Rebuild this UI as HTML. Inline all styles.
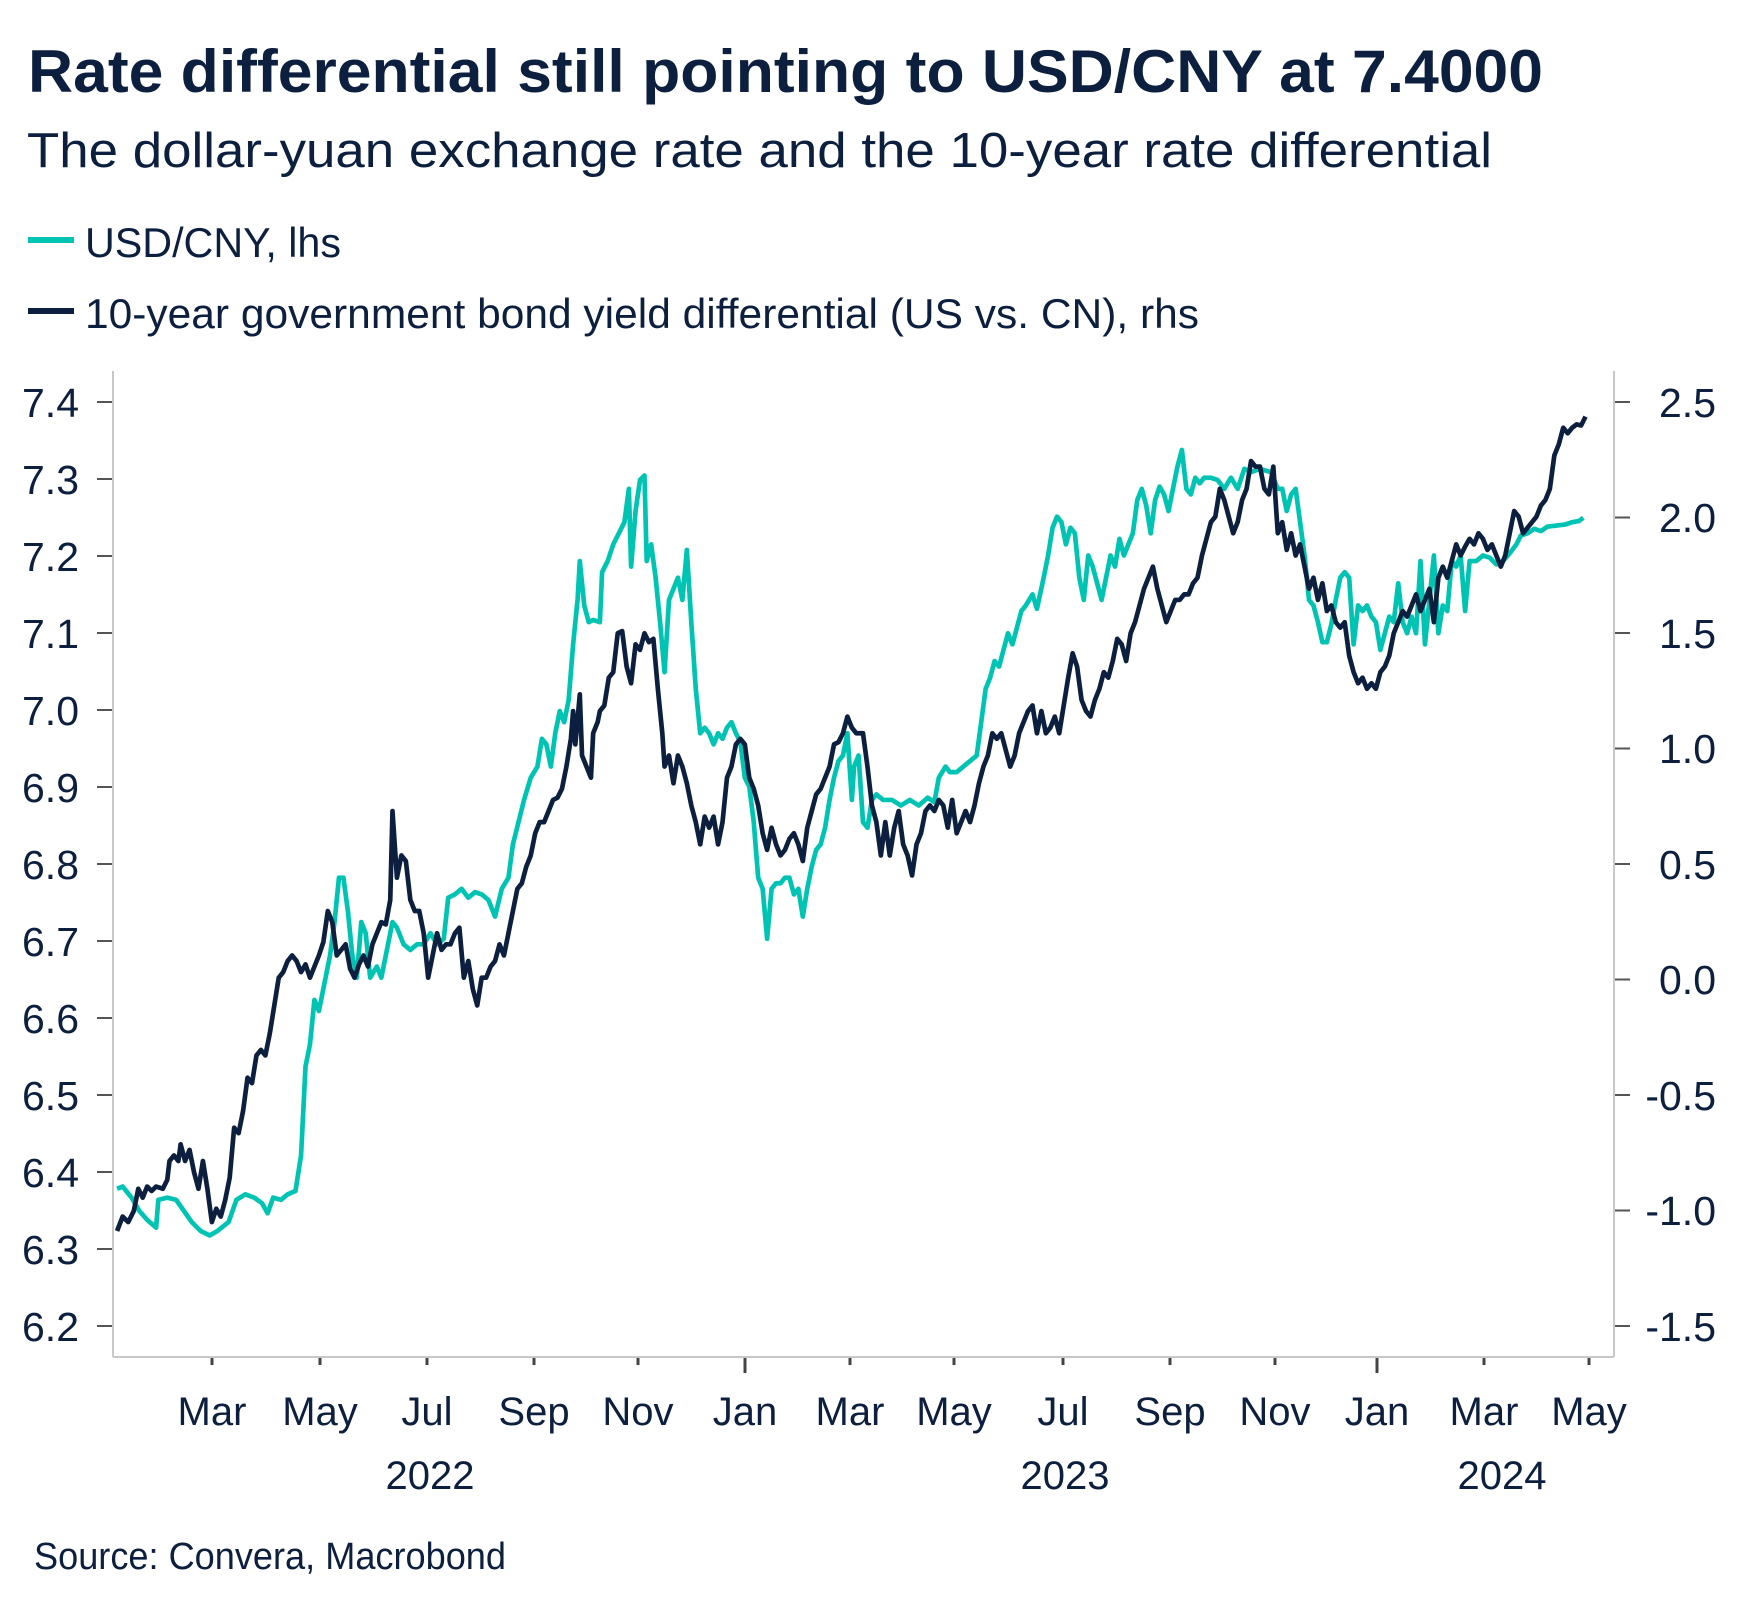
<!DOCTYPE html>
<html><head><meta charset="utf-8"><style>
html,body{margin:0;padding:0;background:#fff;}
svg{display:block;font-family:"Liberation Sans",sans-serif;}
</style></head><body>
<svg width="1745" height="1611" viewBox="0 0 1745 1611" xmlns="http://www.w3.org/2000/svg">
<g fill="#0c1f3f">
<text x="28" y="92" font-size="60" font-weight="bold" textLength="1515" lengthAdjust="spacingAndGlyphs">Rate differential still pointing to USD/CNY at 7.4000</text>
<text x="27" y="167" font-size="49" textLength="1465" lengthAdjust="spacingAndGlyphs">The dollar-yuan exchange rate and  the 10-year rate differential</text>
<text x="85" y="257" font-size="42" textLength="256" lengthAdjust="spacingAndGlyphs">USD/CNY, lhs</text>
<text x="85" y="328" font-size="42" textLength="1114" lengthAdjust="spacingAndGlyphs">10-year government bond yield differential (US vs. CN), rhs</text>
<text x="34" y="1569" font-size="38" textLength="472" lengthAdjust="spacingAndGlyphs">Source: Convera, Macrobond</text>
</g>
<rect x="28" y="237" width="46" height="6" fill="#00c4b3"/>
<rect x="28" y="308" width="46" height="6" fill="#0c1f3f"/>

<g stroke="#c8c8c8" stroke-width="2" fill="none">
<line x1="113" y1="371" x2="113" y2="1357"/>
<line x1="1614" y1="371" x2="1614" y2="1357"/>
<line x1="113" y1="1357" x2="1614" y2="1357"/>
</g>
<g stroke="#555" stroke-width="2">
<line x1="97" y1="402" x2="112" y2="402"/><line x1="97" y1="479" x2="112" y2="479"/><line x1="97" y1="556" x2="112" y2="556"/><line x1="97" y1="633" x2="112" y2="633"/><line x1="97" y1="710" x2="112" y2="710"/><line x1="97" y1="787" x2="112" y2="787"/><line x1="97" y1="864" x2="112" y2="864"/><line x1="97" y1="941" x2="112" y2="941"/><line x1="97" y1="1018" x2="112" y2="1018"/><line x1="97" y1="1095" x2="112" y2="1095"/><line x1="97" y1="1172" x2="112" y2="1172"/><line x1="97" y1="1249" x2="112" y2="1249"/><line x1="97" y1="1326" x2="112" y2="1326"/>
<line x1="1615" y1="402" x2="1630" y2="402"/><line x1="1615" y1="517.5" x2="1630" y2="517.5"/><line x1="1615" y1="633" x2="1630" y2="633"/><line x1="1615" y1="748.5" x2="1630" y2="748.5"/><line x1="1615" y1="864" x2="1630" y2="864"/><line x1="1615" y1="979.5" x2="1630" y2="979.5"/><line x1="1615" y1="1095" x2="1630" y2="1095"/><line x1="1615" y1="1210.5" x2="1630" y2="1210.5"/><line x1="1615" y1="1326" x2="1630" y2="1326"/>
</g>
<g stroke="#444" stroke-width="3">
<line x1="212" y1="1358" x2="212" y2="1365"/><line x1="320" y1="1358" x2="320" y2="1365"/><line x1="427" y1="1358" x2="427" y2="1365"/><line x1="534" y1="1358" x2="534" y2="1365"/><line x1="638" y1="1358" x2="638" y2="1365"/><line x1="745" y1="1358" x2="745" y2="1373"/><line x1="850" y1="1358" x2="850" y2="1365"/><line x1="954" y1="1358" x2="954" y2="1365"/><line x1="1063" y1="1358" x2="1063" y2="1365"/><line x1="1170" y1="1358" x2="1170" y2="1365"/><line x1="1275" y1="1358" x2="1275" y2="1365"/><line x1="1377" y1="1358" x2="1377" y2="1373"/><line x1="1484" y1="1358" x2="1484" y2="1365"/><line x1="1589" y1="1358" x2="1589" y2="1365"/>
</g>
<g fill="#0c1f3f" font-size="41" text-anchor="end">
<text x="79" y="417">7.4</text><text x="79" y="494">7.3</text><text x="79" y="571">7.2</text><text x="79" y="648">7.1</text><text x="79" y="725">7.0</text><text x="79" y="802">6.9</text><text x="79" y="879">6.8</text><text x="79" y="956">6.7</text><text x="79" y="1033">6.6</text><text x="79" y="1110">6.5</text><text x="79" y="1187">6.4</text><text x="79" y="1264">6.3</text><text x="79" y="1341">6.2</text>
<text x="1716" y="417">2.5</text><text x="1716" y="532">2.0</text><text x="1716" y="648">1.5</text><text x="1716" y="763">1.0</text><text x="1716" y="879">0.5</text><text x="1716" y="994">0.0</text><text x="1716" y="1110">-0.5</text><text x="1716" y="1225">-1.0</text><text x="1716" y="1341">-1.5</text>
</g>
<g fill="#0c1f3f" font-size="40" text-anchor="middle">
<text x="212" y="1425">Mar</text><text x="320" y="1425">May</text><text x="427" y="1425">Jul</text><text x="534" y="1425">Sep</text><text x="638" y="1425">Nov</text><text x="745" y="1425">Jan</text><text x="850" y="1425">Mar</text><text x="954" y="1425">May</text><text x="1063" y="1425">Jul</text><text x="1170" y="1425">Sep</text><text x="1275" y="1425">Nov</text><text x="1377" y="1425">Jan</text><text x="1484" y="1425">Mar</text><text x="1589" y="1425">May</text>
<text x="430" y="1489">2022</text><text x="1065" y="1489">2023</text><text x="1502" y="1489">2024</text>
</g>

<g transform="scale(1.115,1.111)" fill="none" stroke-width="4.2" stroke-linejoin="round">
<polyline stroke="#00c4b3" points="105,1070 110,1068 118,1078 125,1090 132,1098 140,1105 142,1080 150,1078 158,1080 165,1090 172,1100 180,1108 188,1112 195,1108 205,1100 212,1080 220,1075 228,1078 235,1083 240,1092 245,1078 252,1080 258,1075 265,1072 270,1040 274,960 278,940 282,900 286,910 290,890 296,860 300,830 304,790 308,790 312,820 316,860 320,880 324,830 328,840 332,880 338,870 342,880 348,850 352,830 356,835 362,850 368,855 374,850 380,850 386,840 392,850 398,845 402,808 408,805 414,800 420,808 426,803 432,805 438,810 444,825 450,800 456,790 460,760 465,740 470,720 476,700 482,690 486,665 490,670 494,690 498,660 502,640 506,650 510,630 514,580 518,540 520,505 524,545 528,560 532,558 538,560 540,515 545,505 550,490 555,480 560,470 564,440 566,510 570,460 574,432 578,428 580,505 584,490 588,520 592,560 596,605 600,540 604,530 608,520 612,540 616,495 620,560 624,620 628,660 632,655 636,660 640,670 644,660 648,665 652,655 656,650 660,660 664,668 668,700 672,708 676,740 680,790 684,800 688,845 692,800 696,795 700,795 704,790 708,790 712,805 716,800 720,825 724,800 728,780 732,765 736,760 740,745 744,720 748,700 752,685 756,680 760,660 764,720 766,690 770,680 774,740 778,745 782,720 786,715 792,720 800,720 808,725 816,720 824,725 832,718 838,722 842,700 848,690 852,695 858,695 864,690 870,685 876,680 880,650 884,620 888,610 892,595 896,600 900,585 904,570 908,580 912,565 916,550 920,545 926,535 930,548 936,520 940,500 944,475 948,465 952,470 956,490 960,475 964,480 968,520 972,540 976,500 980,510 984,525 988,540 992,520 996,500 1000,510 1004,485 1008,500 1012,490 1016,480 1020,450 1024,440 1028,455 1032,480 1036,450 1040,438 1044,445 1048,460 1052,440 1056,420 1060,405 1064,440 1068,445 1072,430 1076,435 1080,430 1086,430 1092,432 1098,440 1104,430 1110,440 1116,422 1122,425 1130,422 1140,425 1146,440 1150,440 1154,460 1158,445 1162,440 1166,470 1170,500 1174,540 1178,545 1182,560 1186,578 1190,578 1194,562 1198,540 1202,520 1206,515 1210,520 1214,580 1218,545 1222,550 1226,545 1230,555 1234,560 1238,585 1242,570 1246,555 1250,560 1254,525 1258,560 1262,570 1266,555 1270,570 1274,505 1278,580 1282,540 1286,500 1290,570 1294,545 1298,550 1302,505 1306,510 1310,500 1314,550 1318,505 1324,505 1330,500 1336,502 1342,508 1348,505 1354,498 1360,490 1364,482 1370,480 1376,476 1382,478 1388,474 1396,473 1404,472 1410,470 1416,469 1420,466"/>
<polyline stroke="#0c1f3f" points="105,1108 110,1095 115,1100 120,1090 124,1070 128,1078 132,1068 136,1072 140,1068 146,1070 150,1062 152,1045 156,1040 160,1045 162,1030 166,1045 170,1035 174,1055 178,1070 182,1045 186,1070 190,1100 194,1088 198,1095 202,1080 206,1060 210,1015 214,1020 218,1000 222,970 226,975 230,950 234,945 238,950 242,930 246,905 250,880 254,875 258,865 262,860 266,865 270,875 274,868 278,880 282,870 286,860 290,848 294,820 298,830 302,860 306,855 310,850 314,872 318,880 322,868 326,860 330,870 334,850 338,840 342,830 346,832 350,810 352,730 356,790 360,770 364,775 368,810 372,820 376,820 380,840 384,880 388,860 392,840 396,855 400,850 404,850 408,840 412,835 416,880 420,865 424,890 428,905 432,880 436,880 440,870 444,865 448,850 452,860 456,840 460,820 464,800 468,795 472,780 476,770 480,750 484,740 488,740 492,730 496,720 500,718 504,710 508,690 512,665 514,640 516,670 520,625 522,680 526,690 530,700 532,660 536,650 538,640 542,635 546,610 550,605 554,570 558,568 562,600 566,615 570,580 574,585 578,570 582,578 586,575 590,620 594,660 596,690 600,680 604,705 608,680 612,690 616,705 620,725 624,740 628,760 632,735 636,745 640,735 644,760 648,740 652,700 656,690 660,670 664,665 668,670 672,700 676,710 680,725 684,750 688,765 692,745 696,760 700,770 704,765 708,755 712,750 716,760 720,775 724,745 728,730 732,715 736,710 740,700 744,690 748,670 752,668 756,660 760,645 764,655 768,660 774,660 778,690 782,725 786,740 790,770 794,740 798,770 802,745 806,730 810,760 814,770 818,788 822,760 826,750 830,730 834,725 838,730 842,720 846,725 850,745 854,720 858,750 862,740 866,730 870,740 874,725 878,705 882,690 886,680 890,660 894,665 898,660 902,675 906,690 910,680 914,660 918,650 922,640 926,635 930,660 934,640 938,660 942,655 946,645 950,660 954,635 958,610 962,588 966,600 970,630 974,640 978,645 982,630 986,620 990,605 994,610 998,595 1002,575 1006,580 1010,595 1014,570 1018,560 1022,545 1026,530 1030,520 1034,510 1038,530 1042,545 1046,560 1050,550 1054,540 1058,540 1062,535 1066,535 1070,525 1074,520 1078,500 1082,485 1086,470 1090,465 1094,440 1098,450 1102,465 1106,480 1110,470 1114,450 1118,440 1122,415 1126,420 1130,420 1134,440 1138,445 1142,420 1146,480 1150,470 1154,495 1158,480 1162,500 1166,490 1170,510 1174,530 1178,520 1182,540 1186,525 1190,550 1194,545 1198,560 1202,565 1206,560 1210,590 1214,605 1218,615 1222,610 1226,620 1230,615 1234,620 1238,605 1242,600 1246,590 1250,570 1254,560 1258,550 1262,555 1266,545 1270,535 1274,550 1278,540 1282,530 1286,560 1290,520 1294,510 1298,520 1302,505 1306,490 1310,500 1314,492 1318,485 1322,490 1326,480 1330,485 1334,495 1338,490 1342,500 1346,510 1350,500 1354,480 1358,460 1362,465 1366,480 1370,475 1374,470 1378,465 1382,455 1386,450 1390,440 1394,410 1398,400 1402,385 1406,390 1410,385 1414,382 1418,383 1422,375"/>
</g>
</svg>
</body></html>
